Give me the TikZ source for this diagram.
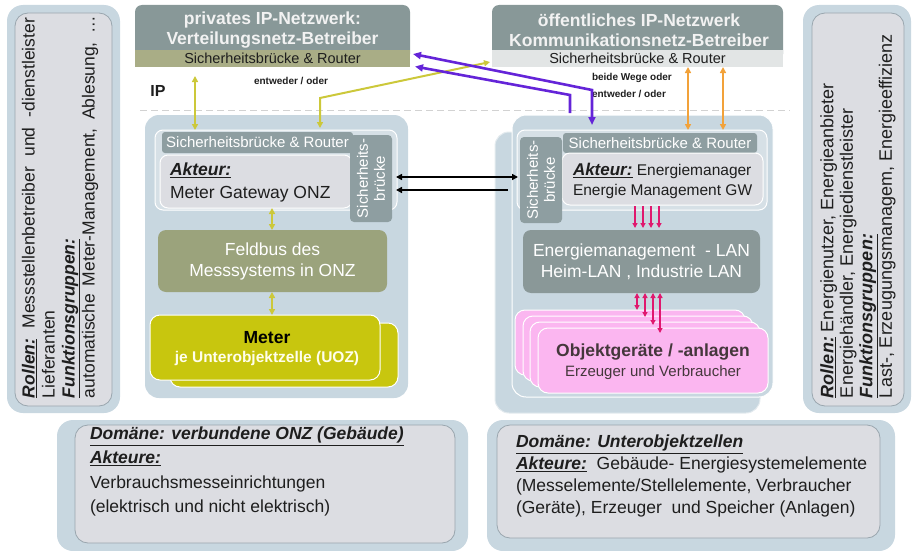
\documentclass[tikz,border=0pt]{standalone}
\usepackage{fontspec}
\setmainfont{Liberation Sans}
\usetikzlibrary{arrows.meta}
\newcommand\myfs[2]{\fontsize{#1}{#2}\selectfont}
\newcommand\rol[1]{\underline{\textbf{\textit{#1}}}}
\definecolor{outerblue}{HTML}{C8D7E0}
\definecolor{innergray}{HTML}{DCDDE2}
\definecolor{innerline}{HTML}{9AA6AE}
\definecolor{slatehead}{HTML}{889898}
\definecolor{bandolive}{HTML}{A9AD86}
\definecolor{lightband}{HTML}{E2E5E5}
\definecolor{bandgray}{HTML}{8E9EA1}
\definecolor{blocklight}{HTML}{D6E0E6}
\definecolor{feldbusc}{HTML}{9BA37C}
\definecolor{meterc}{HTML}{C8C60E}
\definecolor{lanc}{HTML}{8A9898}
\definecolor{pinkboxc}{HTML}{FBB6F0}
\definecolor{pinkarrow}{HTML}{E0186E}
\definecolor{ipviolet}{HTML}{6424D8}
\definecolor{ipyellow}{HTML}{CCC83A}
\definecolor{iporange}{HTML}{F2A23A}
\definecolor{textdark}{HTML}{1E1E1E}
\begin{document}
\begin{tikzpicture}[x=1pt,y=-1pt,
  every node/.style={inner sep=0pt, outer sep=0pt, text=textdark},
  box/.style={anchor=north west, inner sep=0pt},
  sideouter/.style={box, fill=outerblue, rounded corners=16pt},
  sideinner/.style={box, fill=innergray, draw=innerline, line width=0.8pt, rounded corners=13pt},
  header/.style={box, fill=slatehead, rounded corners=7pt},
  mainouter/.style={box, fill=outerblue, rounded corners=14pt},
  block/.style={box, fill=blocklight, draw=white, line width=1pt, rounded corners=8pt},
  sbband/.style={box, fill=bandgray, rounded corners=3pt},
  akteurbox/.style={box, fill=innergray, draw=white, line width=1pt, rounded corners=8pt},
  meterbox/.style={box, fill=meterc, draw=white, line width=1pt, rounded corners=10pt},
  pinkbox/.style={box, fill=pinkboxc, draw=white, line width=1pt, rounded corners=10pt},
  yarrow/.style={draw=ipyellow, line width=2pt, >={Triangle[length=6pt,width=6pt]}},
  oarrow/.style={draw=iporange, line width=2pt, >={Triangle[length=6pt,width=6pt]}},
  varrow/.style={draw=ipviolet, line width=2.6pt, >={Triangle[length=8pt,width=7pt]}},
  parrow/.style={draw=pinkarrow, line width=2pt, >={Triangle[length=5pt,width=5pt]}},
  karrow/.style={draw=black, line width=2pt, >={Triangle[length=6pt,width=6pt]}},
  smalllabel/.style={font=\myfs{10}{17}\bfseries, align=left}
]
\useasboundingbox (0,0) rectangle (915,551);

% dashed separator
\draw[gray!35, line width=1pt, dash pattern=on 7pt off 4pt] (140,110) -- (790,110);

% left sidebar
\node[sideouter, minimum width=113pt, minimum height=408pt] (lso) at (7,5) {};
\node[sideinner, minimum width=97pt, minimum height=393pt] (lsi) at (15,13) {};
\node[rotate=90, anchor=west, align=left, font=\myfs{17.5}{20}] (ltext) at (60,398)
 {\makebox[380pt][s]{\rol{Rollen:} Messstellenbetreiber und -dienstleister}\\
  Lieferanten\\
  \rol{Funktionsgruppen:}\\
  \makebox[382pt][s]{automatische Meter-Management, Ablesung, …}};

% right sidebar
\node[sideouter, minimum width=108pt, minimum height=408pt] (rso) at (803,5) {};
\node[sideinner, minimum width=92pt, minimum height=393pt] (rsi) at (812,13) {};
\node[rotate=90, anchor=west, align=left, font=\myfs{18}{19.5}] (rtext) at (858,398)
 {\rol{Rollen:} Energienutzer, Energieanbieter\\
  Energiehändler, Energiedienstleister\\
  \rol{Funktionsgruppen:}\\
  Last-, Erzeugungsmanagem, Energieeffizienz};

% top headers
\node[header, minimum width=275pt, minimum height=56pt] (lhead) at (135,5) {};
\node[font=\myfs{17.5}{20}\bfseries, text=white!95!black, align=center] (lheadtext) at (272.5,30)
 {privates IP-Netzwerk:\\Verteilungsnetz-Betreiber};
\node[box, fill=bandolive, minimum width=275pt, minimum height=17pt, font=\myfs{14.5}{17}] (lband) at (135,50)
 {Sicherheitsbrücke \& Router};

\node[header, minimum width=291pt, minimum height=56pt] (rhead) at (492,5) {};
\node[font=\myfs{17.5}{20}\bfseries, text=white!95!black, align=center] (rheadtext) at (639,30)
 {öffentliches IP-Netzwerk\\Kommunikationsnetz-Betreiber};
\node[box, fill=lightband, minimum width=291pt, minimum height=17pt, font=\myfs{14.5}{17}] (rband) at (492,50)
 {Sicherheitsbrücke \& Router};

% labels in IP area
\node[smalllabel] (lbl1) at (291,81) {entweder / oder};
\node[font=\myfs{16}{18}\bfseries] (iplbl) at (158,91) {IP};
\node[smalllabel, anchor=north west] (lbl2) at (592,73) {beide Wege oder\\ entweder / oder};

% ---------- left main box ----------
\node[mainouter, minimum width=263pt, minimum height=283pt] (lmain) at (145,115) {};
\node[block, minimum width=242pt, minimum height=80pt] (lgw) at (155,130) {};
\node[sbband, minimum width=191pt, minimum height=21pt, font=\myfs{15}{18}, text=white] (lsr) at (162,132) {Sicherheitsbrücke \& Router};
\node[akteurbox, minimum width=192pt, minimum height=53pt] (lakt) at (160,155) {};
\node[anchor=north west, align=left, font=\myfs{17.5}{23}] (lakttext) at (170,163) {\rol{Akteur:}\\Meter Gateway ONZ};
\node[sbband, rounded corners=4pt, minimum width=42pt, minimum height=87pt] (lsb) at (350,135) {};
\node[rotate=90, align=center, font=\myfs{15}{17}, text=white] (lsbtext) at (lsb.center) {Sicherheits-\\brücke};

\node[box, fill=feldbusc, rounded corners=8pt, minimum width=229pt, minimum height=62pt] (feldbus) at (158,230) {};
\node[align=center, font=\myfs{17.5}{21}, text=white] (feldbustext) at (feldbus.center) {Feldbus des\\Messsystems in ONZ};

\node[meterbox, minimum width=228pt, minimum height=64pt] (meterback) at (170,323) {};
\node[meterbox, minimum width=230pt, minimum height=65pt] (meter) at (150,315) {};
\node[font=\myfs{17.5}{20}\bfseries, text=black] (metert1) at (267,338) {Meter};
\node[font=\myfs{15.5}{20}\bfseries, text=white!92!yellow] (metert2) at (267,358) {je Unterobjektzelle (UOZ)};

% ---------- right main box ----------
\node[mainouter, draw=white!50!outerblue, line width=1pt, minimum width=265pt, minimum height=281pt] (rmainback) at (495,132) {};
\node[mainouter, draw=white, line width=1pt, minimum width=261pt, minimum height=282pt] (rmain) at (512,115) {};
\node[block, minimum width=250pt, minimum height=80pt] (rgw) at (517,130) {};
\node[sbband, minimum width=194pt, minimum height=20pt, font=\myfs{15}{18}, text=white] (rsr) at (563,133) {Sicherheitsbrücke \& Router};
\node[akteurbox, minimum width=201pt, minimum height=52pt] (rakt) at (562,153) {};
\node[anchor=north west, align=left, font=\myfs{15.5}{20}] (rakttext) at (573,163)
 {{\myfs{17}{20}\rol{Akteur:}} Energiemanager\\Energie Management GW};
\node[sbband, rounded corners=4pt, minimum width=42pt, minimum height=86pt] (rsb) at (520,137) {};
\node[rotate=90, align=center, font=\myfs{15}{17}, text=white] (rsbtext) at (rsb.center) {Sicherheits-\\brücke};

\node[box, fill=lanc, rounded corners=8pt, minimum width=237pt, minimum height=63pt] (lan) at (523,230) {};
\node[align=center, font=\myfs{17.5}{20.5}, text=white] (lantext) at (641.5,262) {Energiemanagement\ \ - LAN\\Heim-LAN , Industrie LAN};

\node[pinkbox, minimum width=230pt, minimum height=65pt] (pink1) at (515,310) {};
\node[pinkbox, minimum width=230pt, minimum height=65pt] (pink2) at (523,316) {};
\node[pinkbox, minimum width=230pt, minimum height=65pt] (pink3) at (530,322) {};
\node[pinkbox, minimum width=230pt, minimum height=65pt] (pink4) at (538,328) {};
\node[font=\myfs{17.5}{20}\bfseries, text=black!85!magenta] (pinkt1) at (653,352) {Objektgeräte / -anlagen};
\node[font=\myfs{15}{20}, text=black!85!magenta] (pinkt2) at (653,373) {Erzeuger und Verbraucher};

% ---------- bottom boxes ----------
\node[sideouter, minimum width=411pt, minimum height=131pt] (blo) at (57,420) {};
\node[sideinner, minimum width=380pt, minimum height=118pt] (bli) at (75,425) {};
\node[anchor=north west, align=left, font=\myfs{17.5}{24.3}] (bltext) at (90,427)
 {\rol{Domäne: verbundene ONZ (Gebäude)}\\
  \rol{Akteure:}\\
  Verbrauchsmesseinrichtungen\\
  (elektrisch und nicht elektrisch)};

\node[sideouter, minimum width=408pt, minimum height=131pt] (bro) at (487,420) {};
\node[sideinner, minimum width=383pt, minimum height=113pt] (bri) at (497,425) {};
\node[anchor=north west, align=left, font=\myfs{17.5}{22}] (brtext) at (516,435)
 {\rol{Domäne: Unterobjektzellen}\\
  \rol{Akteure:}\ \ Gebäude- Energiesystemelemente\\
  (Messelemente/Stellelemente, Verbraucher\\
  (Geräte), Erzeuger\ \ und Speicher (Anlagen)};

% ---------- connectors ----------
\coordinate (ya1) at (195,76);
\coordinate (ya2) at (195,130);
\coordinate (yb1) at (320,128);
\coordinate (yb2) at (320,98);
\coordinate (yb3) at (490,62);
\draw[yarrow, <->] (ya1) -- (ya2);
\draw[yarrow, <->] (yb1) -- (yb2) -- (yb3);

\coordinate (va2) at (592,90);
\coordinate (va3) at (592,125);
\coordinate (vb2) at (570,95);
\coordinate (vb3) at (570,113);
\draw[varrow, <->] ([xshift=3pt,yshift=4.5pt]lband.east) -- (va2) -- (va3);
\draw[varrow, <-] ([xshift=5pt,yshift=-8pt]lband.east) -- (vb2) -- (vb3);

\coordinate (oa1) at (688,67);
\coordinate (oa2) at (688,130);
\coordinate (ob1) at (723,67);
\coordinate (ob2) at (723,130);
\draw[oarrow, <->] (oa1) -- (oa2);
\draw[oarrow, <->] (ob1) -- (ob2);

\draw[yarrow, <->] (lakt.south -| 272,0) -- (feldbus.north -| 272,0);
\draw[yarrow, <->] (feldbus.south -| 272,0) -- (meter.north -| 272,0);

\coordinate (kb2) at (508,190);
\draw[karrow, <->] ([xshift=4pt,yshift=1.5pt]lsb.east) -- ([xshift=-2pt,yshift=3pt]rsb.west);
\draw[karrow, <-] ([xshift=4pt,yshift=-11.5pt]lsb.east) -- (kb2);

\foreach \px in {635,643,651,659}{
  \draw[parrow, ->] (\px,206) -- (\px,228);
}
\draw[parrow, <->] (637,293) -- (637,310);
\draw[parrow, <->] (645,293) -- (645,317);
\draw[parrow, <->] (653,293) -- (653,325);
\draw[parrow, <->] (660,293) -- (660,333);
\end{tikzpicture}
\end{document}
